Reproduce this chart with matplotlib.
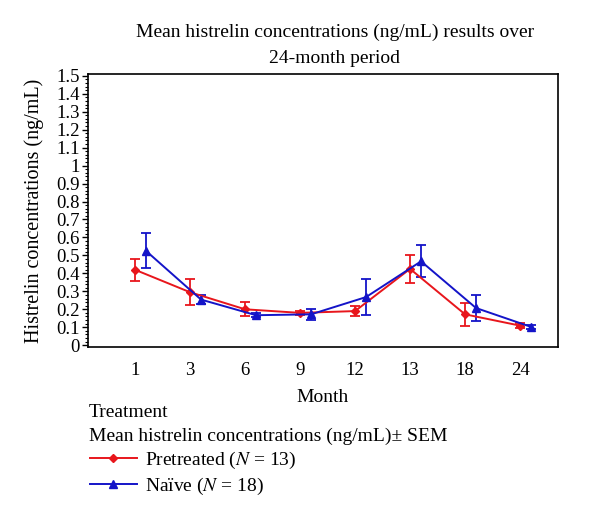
import numpy as np
import matplotlib
matplotlib.use("Agg")
import matplotlib.pyplot as plt
from matplotlib.ticker import MultipleLocator, FormatStrFormatter

plt.rcParams["font.family"] = ["Liberation Serif", "DejaVu Serif"]
plt.rcParams["mathtext.fontset"] = "stix"

# datos
months = ["1", "3", "6", "9", "12", "13", "18", "24"]
pretreated = [0.42, 0.295, 0.20, 0.18, 0.19, 0.425, 0.172, 0.109]
pretreated_sem = [0.06, 0.073, 0.04, 0.012, 0.03, 0.08, 0.064, 0.012]
naive = [0.525, 0.254, 0.167, 0.172, 0.268, 0.467, 0.207, 0.102]
naive_sem = [0.097, 0.025, 0.01, 0.03, 0.10, 0.09, 0.07, 0.01]

red = "#e8161c"
blue = "#1414c8"
fs = 14
tfs = 13.5

fig = plt.figure(figsize=(6, 5.16), dpi=100)
ax = fig.add_axes([0.1467, 0.3275, 0.7833, 0.5291])

x = np.arange(len(months))
xb = x + 0.2

ax.errorbar(x, pretreated, yerr=pretreated_sem, fmt="none", ecolor=red,
            elinewidth=1.3, capsize=3.5, capthick=1.3)
ax.errorbar(xb, naive, yerr=naive_sem, fmt="none", ecolor=blue,
            elinewidth=1.3, capsize=3.5, capthick=1.3)
l1, = ax.plot(x, pretreated, color=red, lw=1.4, marker="D", ms=4.5,
              label="Pretreated ($N$ = 13)")
l2, = ax.plot(xb, naive, color=blue, lw=1.4, marker="^", ms=5.5,
              label="Naïve ($N$ = 18)")

ax.set_xlim(-0.855, 7.69)
ax.set_ylim(-0.01, 1.51)
ax.set_xticks(x)
ax.set_xticklabels(months, fontsize=tfs)
ax.tick_params(axis="x", length=0, pad=11)
ax.yaxis.set_major_locator(MultipleLocator(0.1))
ax.yaxis.set_minor_locator(MultipleLocator(0.02))
ax.yaxis.set_major_formatter(FormatStrFormatter("%g"))
ax.tick_params(axis="y", which="major", length=4, width=1, labelsize=tfs, pad=2)
ax.tick_params(axis="y", which="minor", length=2.5, width=0.8)
for s in ax.spines.values():
    s.set_linewidth(1.2)

ax.set_xlabel("Month", fontsize=fs, labelpad=7)
ax.set_ylabel("Histrelin concentrations (ng/mL)", fontsize=14.5, labelpad=9)

fig.text(0.558, 0.937, "Mean histrelin concentrations (ng/mL) results over",
         ha="center", va="center", fontsize=fs)
fig.text(0.558, 0.886, "24-month period", ha="center", va="center", fontsize=fs)

fig.text(0.148, 0.201, "Treatment", ha="left", va="center", fontsize=fs)
fig.text(0.148, 0.155, "Mean histrelin concentrations (ng/mL)± SEM",
         ha="left", va="center", fontsize=fs)
fig.legend(handles=[l1, l2], loc="upper left", bbox_to_anchor=(0.15, 0.128),
           frameon=False, fontsize=fs, handlelength=2.4, handletextpad=0.45,
           labelspacing=0.25, borderaxespad=0, borderpad=0)

fig.savefig("out.png", dpi=100)
